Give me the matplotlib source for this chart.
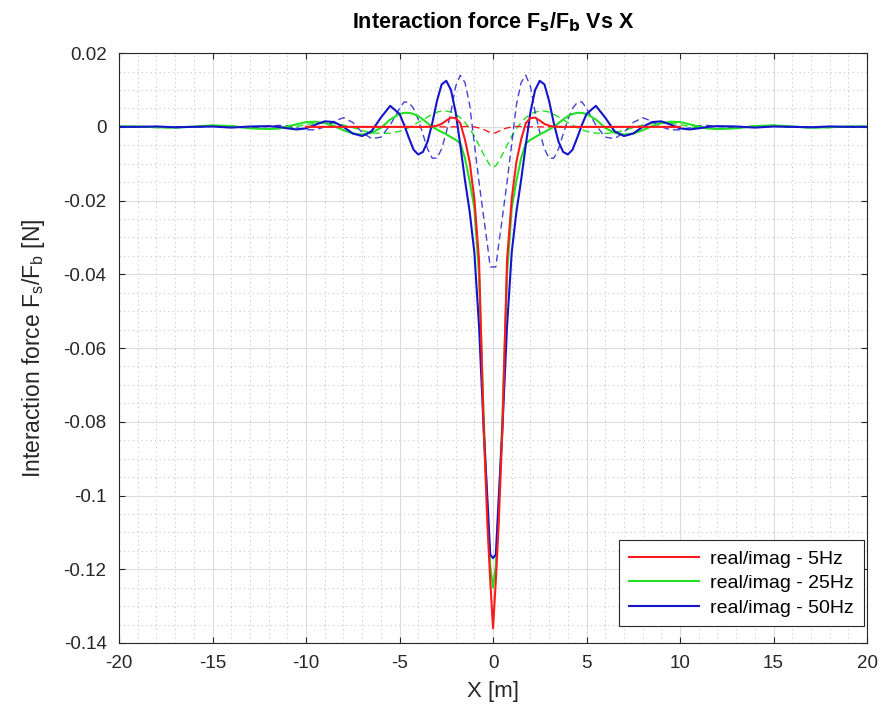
import numpy as np
import matplotlib
matplotlib.use('Agg')
import matplotlib.pyplot as plt
from matplotlib.ticker import MultipleLocator

plt.rcParams['font.family'] = ['Liberation Sans', 'DejaVu Sans']
plt.rcParams['axes.unicode_minus'] = False

# half grid (x >= 0), curves are symmetric about x = 0
XH = [0, 0.15, 0.3, 0.5, 0.75, 1.0, 1.25, 1.5, 1.75, 2.0, 2.25, 2.5, 2.75, 3.0,
      3.25, 3.5, 3.75, 4.0, 4.25, 4.5, 4.75, 5.0, 5.5, 6.0, 6.5, 7.0, 7.5, 8.0,
      8.5, 9.0, 9.5, 10, 10.5, 11, 11.5, 12, 13, 14, 15, 16, 17, 18, 19, 20]

# 5 Hz only read up to x = 10
re_5 = [-0.136, -0.123, -0.108, -0.082, -0.036, -0.0195, -0.0095, -0.0035, 0.001,
        0.0024, 0.0025, 0.0017, 0.0008, 0.0003, 0.0001, 0, 0, 0, 0, 0, 0, 0,
        0, 0, 0, 0, 0, 0, 0, 0, 0, 0]
im_5 = [-0.0017, -0.0016, -0.0012, -0.0007, -0.0003, 0.0, 0.0001, 0.0001, 0,
        0, 0, 0, 0, 0, 0, 0, 0, 0, 0, 0, 0, 0,
        0, 0, 0, 0, 0, 0, 0, 0, 0, 0]

re_25 = [-0.125, -0.119, -0.104, -0.079, -0.040, -0.022, -0.0147, -0.0085, -0.0045,
         -0.0035, -0.0028, -0.002, -0.0014, -0.0007, 0.0, 0.001, 0.002, 0.0029,
         0.0035, 0.0038, 0.0038, 0.0035, 0.002, -0.0003, -0.0016, -0.0021, -0.0018,
         -0.0009, 0.0002, 0.001, 0.0014, 0.0013, 0.0007, 0.0001, -0.0004, -0.0006,
         -0.0004, 0.0002, 0.0004, 0.0001, -0.0002, -0.0001, 0.0001, 0.0001]
im_25 = [-0.011, -0.0105, -0.0093, -0.0075, -0.005, -0.0025, -0.0005, 0.0012, 0.0025,
         0.0034, 0.004, 0.0043, 0.0043, 0.004, 0.0034, 0.0027, 0.0019, 0.0012,
         0.0005, -0.0002, -0.0008, -0.0012, -0.0017, -0.0018, -0.0016, -0.001,
         -0.0002, 0.0005, 0.0009, 0.0011, 0.001, 0.0006, 0.0001, -0.0003, -0.0005,
         -0.0006, -0.0003, 0.0003, 0.0004, 0.0, -0.0003, -0.0002, 0.0001, 0.0002]

re_50 = [-0.117, -0.116, -0.101, -0.082, -0.054, -0.034, -0.023, -0.0145, -0.005,
         0.004, 0.010, 0.0125, 0.0115, 0.007, 0.001, -0.004, -0.0068, -0.0075,
         -0.0062, -0.003, 0.0005, 0.0035, 0.0057, 0.0025, -0.0012, -0.0025, -0.0018,
         0.0, 0.0013, 0.0015, 0.0006, -0.0004, -0.0007, -0.0004, 0.0, 0.0002,
         0.0001, -0.0002, 0.0001, 0.0, -0.0001, 0.0001, 0.0, 0.0]
im_50 = [-0.038, -0.038, -0.032, -0.0245, -0.015, -0.0045, 0.006, 0.012, 0.014,
         0.011, 0.004, -0.0015, -0.006, -0.0085, -0.0085, -0.006, -0.002, 0.002,
         0.005, 0.0066, 0.0068, 0.005, 0.0005, -0.0028, -0.0032, -0.0015, 0.0012,
         0.0025, 0.0015, 0.0, -0.0008, -0.0008, -0.0003, 0.0003, 0.0004, 0.0001,
         -0.0002, 0.0001, 0.0002, -0.0001, -0.0001, 0.0001, 0.0, 0.0]

labels = ['real/imag - 5Hz', 'real/imag - 25Hz', 'real/imag - 50Hz']
C_RED = '#ff1a1a'
C_GRN = '#22e022'
C_BLU = '#1414cc'


def mirror(v):
    v = np.asarray(v, dtype=float)
    return np.concatenate([v[::-1][:-1], v])


def xs(n):
    x = np.asarray(XH[:n], dtype=float)
    return np.concatenate([-x[::-1][:-1], x])


fig = plt.figure(figsize=(8.82, 7.18), dpi=100)
ax = fig.add_axes([0.135, 0.1045, 0.848, 0.8215])

ax.plot(xs(len(im_25)), mirror(im_25), '--', color=C_GRN, lw=1.0, dashes=(5, 3))
ax.plot(xs(len(im_50)), mirror(im_50), '--', color=C_BLU, lw=1.0, dashes=(5, 3), alpha=0.8)
ax.plot(xs(len(im_5)), mirror(im_5), '--', color=C_RED, lw=1.0, dashes=(5, 3))
l25, = ax.plot(xs(len(re_25)), mirror(re_25), color=C_GRN, lw=1.5)
l50, = ax.plot(xs(len(re_50)), mirror(re_50), color=C_BLU, lw=1.5)
l5, = ax.plot(xs(len(re_5)), mirror(re_5), color=C_RED, lw=1.5)

ax.set_xlim(-20, 20)
ax.set_ylim(-0.14, 0.02)
ax.xaxis.set_major_locator(MultipleLocator(5))
ax.xaxis.set_minor_locator(MultipleLocator(1))
ax.yaxis.set_minor_locator(MultipleLocator(0.005))
ax.set_yticks(np.arange(-0.14, 0.021, 0.02))
ax.set_yticklabels(['-0.14', '-0.12', '-0.1', '-0.08', '-0.06', '-0.04', '-0.02', '0', '0.02'])

ax.grid(which='major', color='#dcdcdc', lw=0.8, ls='-')
ax.grid(which='minor', color='#c8c8c8', lw=0.8, ls=(0, (1, 3)))
ax.set_axisbelow(True)
ax.tick_params(which='both', direction='in', top=True, right=True, colors='#262626',
               labelsize=13.5)
ax.tick_params(which='major', length=4)
ax.tick_params(axis='x', which='major', pad=9)
ax.tick_params(axis='y', which='major', pad=9)
ax.tick_params(which='minor', length=0)
for s in ax.spines.values():
    s.set_color('#262626')
    s.set_linewidth(0.8)

ax.set_xlabel('X [m]', fontsize=16, color='#262626', labelpad=6)
ax.set_ylabel(r'Interaction force F$_\mathregular{s}$/F$_\mathregular{b}$ [N]',
              fontsize=16.5, color='#262626', labelpad=12)
ax.set_title(r'Interaction force F$_\mathbf{s}$/F$_\mathbf{b}$ Vs X', fontsize=15.5,
             fontweight='bold', color='black', pad=18)

leg = ax.legend([l5, l25, l50], labels, loc='lower right', fontsize=14,
                fancybox=False, framealpha=1, edgecolor='#262626',
                handlelength=3.6, handletextpad=0.6, borderaxespad=0.1,
                borderpad=0.5, labelspacing=0.35,
                bbox_to_anchor=(0.9985, 0.025))
leg.get_frame().set_linewidth(0.8)

fig.savefig('out.png', dpi=100)
